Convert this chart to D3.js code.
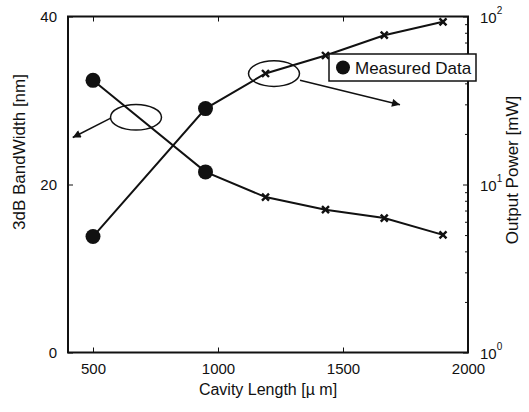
<!DOCTYPE html>
<html>
<head>
<meta charset="utf-8">
<script src="https://cdn.jsdelivr.net/npm/d3@7"></script>
<style>
	body { margin: 0; background: #fff; }
	text { font-family: "Liberation Sans", Arial, Helvetica, sans-serif; fill: #111; }
</style>
</head>
<body>
<svg id="chart" width="529" height="412"></svg>
<script>
// cavity length [um] for the simulated curves
var cavityLength = [500, 950, 1190, 1430, 1665, 1900];
// 3dB bandwidth [nm], left axis
var bandwidth = [32.4, 21.5, 18.5, 17.0, 16.0, 14.0];
// output power [mW], right log axis
var outputPower = [4.9, 28.3, 45.8, 58.6, 77.4, 93.0];

// measured data points
var measuredLength = [500, 950];
var measuredBandwidth = [32.4, 21.5];
var measuredPower = [4.9, 28.3];

var xTicks = [500, 1000, 1500, 2000];
var leftTicks = [0, 20, 40];
var rightTicks = [1, 10, 100];

var svg = d3.select("#chart");
var margin = {left: 68, right: 61, top: 16.5, bottom: 59.5};
var W = 529 - margin.left - margin.right;
var H = 412 - margin.top - margin.bottom;

var g = svg.append("g").attr("transform", "translate(" + margin.left + "," + margin.top + ")");

var x = d3.scaleLinear().domain([400, 2000]).range([0, W]);
var yL = d3.scaleLinear().domain([0, 40]).range([H, 0]);
var yR = d3.scaleLog().domain([1, 100]).range([H, 0]);

var TICK = 5;

// --- axes (MATLAB style, ticks point inward)
var xAxisB = d3.axisBottom(x).tickValues(xTicks).tickFormat(d3.format("d"))
	.tickSizeInner(-TICK).tickSizeOuter(0).tickPadding(11);
var xAxisT = d3.axisTop(x).tickValues(xTicks).tickSizeInner(-TICK).tickSizeOuter(0).tickFormat("");
var yAxisL = d3.axisLeft(yL).tickValues(leftTicks).tickSizeInner(-TICK).tickSizeOuter(0).tickPadding(11);

var minor = [];
[1, 10].forEach(function(dec) {
	for (var k = 2; k <= 9; k++) minor.push(dec * k);
});
var yAxisRmin = d3.axisRight(yR).tickValues(minor).tickSizeInner(-3).tickSizeOuter(0).tickFormat("");
var yAxisR = d3.axisRight(yR).tickValues(rightTicks).tickSizeInner(-TICK).tickSizeOuter(0).tickFormat("");

function styleAxis(sel) {
	sel.select(".domain").remove();
	sel.selectAll(".tick line").attr("stroke", "#111").attr("stroke-width", 1);
	sel.selectAll(".tick text").style("font-size", "15px").attr("fill", "#111");
}

g.append("g").attr("transform", "translate(0," + H + ")").call(xAxisB).call(styleAxis);
g.append("g").call(xAxisT).call(styleAxis);
g.append("g").call(yAxisL).call(styleAxis);
g.append("g").attr("transform", "translate(" + W + ",0)").call(yAxisRmin).call(styleAxis);
g.append("g").attr("transform", "translate(" + W + ",0)").call(yAxisR).call(styleAxis);

// right axis labels as 10 with superscript exponent
rightTicks.forEach(function(v) {
	var t = g.append("text")
		.attr("x", W + 12)
		.attr("y", yR(v) + 6)
		.style("font-size", "15px");
	t.append("tspan").text("10");
	t.append("tspan").attr("dy", -9).style("font-size", "10px").text(Math.round(Math.log10(v)));
});

// frame
g.append("rect").attr("width", W).attr("height", H)
	.attr("fill", "none").attr("stroke", "#111").attr("stroke-width", 2);

// --- curves
var lineBW = d3.line().x(function(d, i) { return x(cavityLength[i]); }).y(function(d) { return yL(d); });
var linePW = d3.line().x(function(d, i) { return x(cavityLength[i]); }).y(function(d) { return yR(d); });

g.append("path").datum(bandwidth).attr("d", lineBW)
	.attr("fill", "none").attr("stroke", "#111").attr("stroke-width", 2);
g.append("path").datum(outputPower).attr("d", linePW)
	.attr("fill", "none").attr("stroke", "#111").attr("stroke-width", 2);

function drawCrosses(vals, yScale) {
	var s = 3.5;
	g.append("g").selectAll("path").data(vals).enter().append("path")
		.attr("d", function(d, i) {
			var cx = x(cavityLength[i]), cy = yScale(d);
			return "M" + (cx - s) + "," + (cy - s) + "L" + (cx + s) + "," + (cy + s) +
				"M" + (cx - s) + "," + (cy + s) + "L" + (cx + s) + "," + (cy - s);
		})
		.attr("stroke", "#111").attr("stroke-width", 2.4);
}
drawCrosses(bandwidth, yL);
drawCrosses(outputPower, yR);

function drawMeasured(vals, yScale) {
	g.append("g").selectAll("circle").data(vals).enter().append("circle")
		.attr("cx", function(d, i) { return x(measuredLength[i]); })
		.attr("cy", function(d) { return yScale(d); })
		.attr("r", 7.5)
		.attr("fill", "#111");
}
drawMeasured(measuredBandwidth, yL);
drawMeasured(measuredPower, yR);

// --- ellipse + arrow annotations (in left-axis data units)
svg.append("defs").append("marker")
	.attr("id", "head").attr("viewBox", "0 0 10 10")
	.attr("refX", 10).attr("refY", 5)
	.attr("markerWidth", 11).attr("markerHeight", 8)
	.attr("markerUnits", "userSpaceOnUse")
	.attr("orient", "auto")
	.append("path").attr("d", "M0,0L10,5L0,10z").attr("fill", "#111");

var notes = [
	{cx: 672, cy: 28.0, from: [571, 27.9], to: [419, 25.6]},
	{cx: 1224, cy: 33.2, from: [1328, 32.4], to: [1728, 29.5]}
];
notes.forEach(function(n) {
	g.append("ellipse")
		.attr("cx", x(n.cx)).attr("cy", yL(n.cy))
		.attr("rx", 25.5).attr("ry", 12.8)
		.attr("fill", "none").attr("stroke", "#111").attr("stroke-width", 1.5);
	g.append("line")
		.attr("x1", x(n.from[0])).attr("y1", yL(n.from[1]))
		.attr("x2", x(n.to[0])).attr("y2", yL(n.to[1]))
		.attr("stroke", "#111").attr("stroke-width", 1.5)
		.attr("marker-end", "url(#head)");
});

// --- legend
var lg = svg.append("g").attr("transform", "translate(329,54)");
lg.append("rect").attr("width", 147).attr("height", 27)
	.attr("fill", "#fff").attr("stroke", "#111").attr("stroke-width", 1.5);
lg.append("circle").attr("cx", 14).attr("cy", 13.5).attr("r", 7).attr("fill", "#111");
lg.append("text").attr("x", 26).attr("y", 19.5).style("font-size", "17px").text("Measured Data");

// --- axis titles
svg.append("text")
	.attr("x", margin.left + W / 2).attr("y", 395)
	.attr("text-anchor", "middle").style("font-size", "16px")
	.text("Cavity Length [\u00b5 m]");
svg.append("text")
	.attr("transform", "translate(25,152) rotate(-90)")
	.attr("text-anchor", "middle").style("font-size", "17px")
	.text("3dB BandWidth [nm]");
svg.append("text")
	.attr("transform", "translate(518,170) rotate(-90)")
	.attr("text-anchor", "middle").style("font-size", "17px")
	.text("Output Power [mW]");
</script>
</body>
</html>
